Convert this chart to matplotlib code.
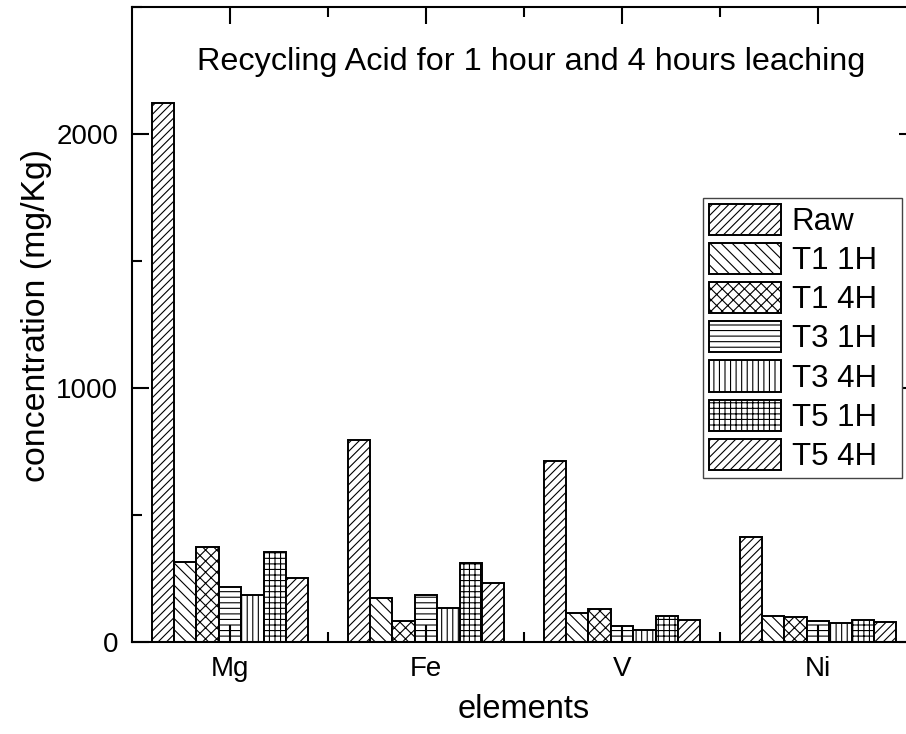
import numpy as np
import matplotlib
matplotlib.use("Agg")
import matplotlib.pyplot as plt
from matplotlib.ticker import FixedLocator

plt.rcParams['font.family'] = ['Liberation Sans', 'DejaVu Sans']
plt.rcParams['hatch.linewidth'] = 0.8

elements = ["Mg", "Fe", "V", "Ni"]
series = ["Raw", "T1 1H", "T1 4H", "T3 1H", "T3 4H", "T5 1H", "T5 4H"]

raw = [2125, 794, 714, 414]
t1_1h = [317, 172, 115, 104]
t1_4h = [374, 84, 131, 97]
t3_1h = [217, 184, 62, 82]
t3_4h = [187, 133, 47, 76]
t5_1h = [356, 312, 101, 88]
t5_4h = [251, 231, 88, 78]

values = [raw, t1_1h, t1_4h, t3_1h, t3_4h, t5_1h, t5_4h]
hatches = ['////', '\\\\\\', 'xxx', '---', '|||', '+++', '////']

fig = plt.figure(figsize=(9.06, 7.34), dpi=100)
# right spine sits just past the image edge, as in the original
ax = fig.add_axes([132 / 906, 92 / 734, 784 / 906, 634.7 / 734])

x = np.arange(len(elements))
n = len(series)
w = 0.8 / n
for i, (name, vals, h) in enumerate(zip(series, values, hatches)):
    ax.bar(x - 0.4 + w * (i + 0.5), vals, width=w, facecolor='white',
           edgecolor='black', linewidth=1.4, hatch=h, label=name)

ax.set_xlim(-0.5, 3.5)
ax.set_ylim(0, 2500)
ax.set_xticks(x)
ax.set_xticklabels(elements)
ax.xaxis.set_minor_locator(FixedLocator([0.5, 1.5, 2.5]))
ax.set_yticks([0, 1000, 2000])
ax.yaxis.set_minor_locator(FixedLocator([500, 1500, 2500]))

for s in ax.spines.values():
    s.set_linewidth(1.5)
ax.tick_params(which='both', direction='in', top=True, right=True, width=1.5)
ax.tick_params(which='major', length=12, labelsize=20)
ax.tick_params(axis='y', which='major', pad=10)
ax.tick_params(axis='x', which='major', pad=10)
ax.tick_params(which='minor', length=7)

ax.set_xlabel("elements", fontsize=23.5, va='center')
ax.xaxis.set_label_coords(0.5, -(710 - 642) / 634.7)
ax.set_ylabel("concentration (mg/Kg)", fontsize=24.4, va='center')
ax.yaxis.set_label_coords(-(132 - 37) / 784, (642 - 315) / 634.7)

fig.text(531 / 906, 1 - 62 / 734, "Recycling Acid for 1 hour and 4 hours leaching",
         fontsize=23.3, ha='center', va='center')

leg_size = 22.5
em = leg_size * 100 / 72
leg = ax.legend(loc='upper left',
                bbox_to_anchor=(702.7 / 906, 1 - 482 / 734, 199 / 906, 284 / 734),
                mode='expand', bbox_transform=fig.transFigure, borderaxespad=0,
                fancybox=False, edgecolor='#444444', framealpha=1, fontsize=leg_size,
                handlelength=72 / em, handleheight=36 / em, handletextpad=11 / em,
                labelspacing=6 / em, borderpad=6 / em)
leg.get_frame().set_linewidth(1.0)

fig.savefig("out.png", dpi=100)
